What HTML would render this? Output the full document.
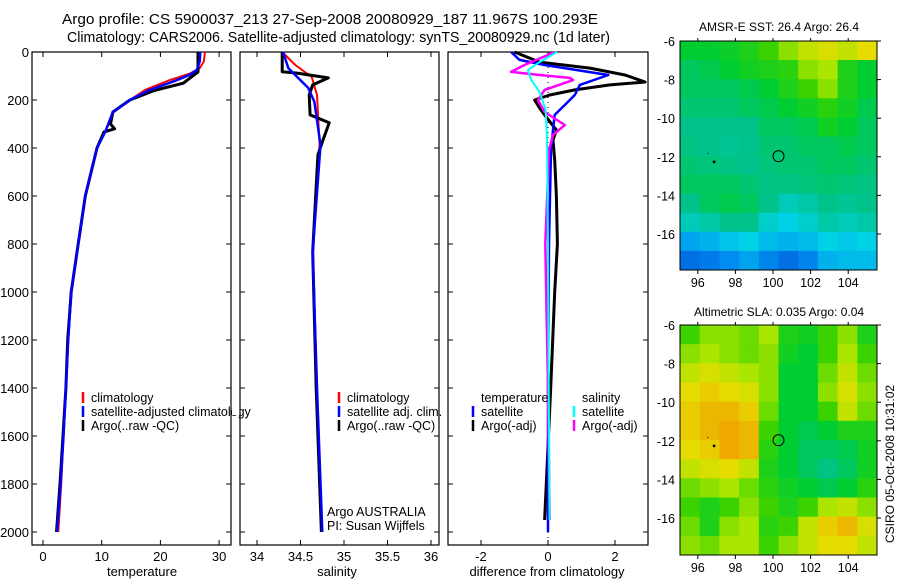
<!DOCTYPE html>
<html><head><meta charset="utf-8"><style>
body{margin:0;background:#fff;}
svg{font-family:"Liberation Sans",sans-serif;display:block}
text{fill:#000}
</style></head><body>
<svg id="s" width="900" height="580" viewBox="0 0 900 580">
<text x="62" y="24" font-size="14.8" textLength="536" lengthAdjust="spacingAndGlyphs">Argo profile: CS 5900037_213 27-Sep-2008 20080929_187 11.967S 100.293E</text>
<text x="67" y="42" font-size="14.8" textLength="543" lengthAdjust="spacingAndGlyphs">Climatology: CARS2006. Satellite-adjusted climatology: synTS_20080929.nc (1d later)</text>
<text x="779" y="31" font-size="12" text-anchor="middle">AMSR-E SST: 26.4 Argo: 26.4</text>
<text x="779" y="316" font-size="12" text-anchor="middle">Altimetric SLA: 0.035 Argo: 0.04</text>
<text transform="translate(894,464) rotate(-90)" font-size="12" text-anchor="middle">CSIRO 05-Oct-2008 10:31:02</text>
<g id="g"></g>
</svg>
<script>
// ---- temperature panel data ----
const tDepthClim=[0,40,67,90,117,158,200,250,333,400,600,800,1000,1200,1400,1600,1800,2000];
const tClim=[27.6,27.4,26.7,25,21.6,17.4,14.8,12,10.6,9.2,7.2,6.0,4.8,4.3,3.9,3.5,3.1,2.6];
const tDepthSat=[0,40,75,95,120,160,200,250,333,400,600,800,1000,1200,1400,1600,1800,2000];
const tSat=[26.8,26.7,26.2,25,22.5,18,14.8,11.9,10.6,9.2,7.2,6.0,4.8,4.3,3.9,3.5,3.0,2.4];
const tDepthArgo=[0,83,130,160,200,250,300,320,333,400,600,800,1000,1200,1400,1600,1800,2000];
const tArgo=[26.4,26.4,23.9,19,14.8,11.9,11.5,12.2,10.4,9.2,7.2,6.0,4.8,4.2,3.9,3.4,2.9,2.3];
// ---- salinity panel data ----
const sDepthClim=[0,54,104,179,387,833,1400,2000];
const sClim=[34.29,34.44,34.63,34.69,34.72,34.64,34.69,34.74];
const sDepthSat=[0,67,150,208,387,833,1400,2000];
const sSat=[34.30,34.36,34.59,34.66,34.73,34.64,34.69,34.75];
const sDepthArgo=[0,82,88,108,137,179,262,295,366,429,833,1400,2000];
const sArgo=[34.29,34.29,34.46,34.82,34.64,34.6,34.61,34.83,34.76,34.7,34.64,34.68,34.74];
// ---- difference panel data ----
const dDepthTSat=[0,33,54,96,137,179,221,262,325,408,800,1400,2000];
const dTSat=[-1.1,-0.85,-0.1,1.8,0.95,0.8,0.5,0.2,0.15,0.09,0.03,0.0,0.0];
const dDepthTArgo=[0,42,67,96,125,137,158,179,200,233,262,325,367,450,600,800,1000,1400,1800,1950];
const dTArgo=[-1,-0.25,1.25,2.3,2.9,1.85,0.8,0.05,-0.4,-0.25,-0.1,0.25,0.15,0.2,0.25,0.28,0.2,0.08,-0.05,-0.1];
const dDepthSArgo=[0,54,83,96,108,117,158,200,250,304,346,408,800,1400,1950];
const dSArgo=[0.2,-0.7,-1.1,-0.25,0.65,0.75,-0.1,-0.3,-0.1,0.5,0.15,0.03,-0.08,0.0,0.05];
const dDepthSSat=[0,42,75,117,167,241,367,800,1400,1950];
const dSSat=[0.27,-0.25,-0.6,-0.5,-0.25,-0.07,-0.03,0.0,0.02,0.05];
// ---- map data (rows top->bottom, cols west->east), normalized 0..1 ----
const sstGrid=[
[.55,.55,.57,.6,.65,.7,.75,.78,.75,.8],
[.5,.52,.55,.58,.6,.62,.7,.72,.6,.55],
[.5,.5,.5,.52,.55,.6,.65,.7,.6,.55],
[.48,.48,.48,.5,.52,.55,.58,.62,.58,.52],
[.45,.45,.45,.45,.5,.5,.52,.58,.55,.5],
[.46,.45,.44,.45,.48,.48,.5,.5,.52,.5],
[.48,.47,.46,.45,.47,.48,.48,.5,.5,.48],
[.5,.5,.5,.48,.46,.46,.47,.48,.47,.46],
[.45,.5,.52,.5,.45,.4,.42,.45,.44,.45],
[.4,.42,.45,.45,.38,.35,.38,.42,.4,.42],
[.25,.28,.32,.35,.3,.28,.3,.35,.33,.35],
[.12,.15,.2,.25,.18,.12,.18,.28,.3,.3]];
const slaGrid=[
[.65,.7,.7,.68,.72,.6,.58,.65,.7,.6],
[.7,.72,.7,.68,.7,.58,.55,.65,.72,.65],
[.75,.78,.75,.72,.7,.55,.55,.68,.75,.68],
[.8,.82,.8,.78,.7,.55,.55,.7,.78,.7],
[.82,.85,.85,.82,.68,.55,.55,.65,.75,.68],
[.82,.85,.87,.85,.65,.55,.52,.55,.6,.6],
[.8,.82,.87,.85,.62,.55,.5,.5,.52,.58],
[.75,.78,.8,.75,.6,.55,.5,.46,.5,.58],
[.68,.7,.72,.68,.62,.58,.55,.52,.55,.62],
[.65,.6,.65,.7,.65,.6,.65,.72,.75,.7],
[.68,.6,.7,.72,.62,.65,.75,.82,.85,.78],
[.7,.68,.72,.72,.65,.7,.75,.8,.8,.75]];
const depthTicks=[0,200,400,600,800,1000,1200,1400,1600,1800,2000];
const tTicks=[0,10,20,30];
const sTicks=[34,34.5,35,35.5,36];
const dTicks=[-2,0,2];
const latTicks=[-6,-8,-10,-12,-14,-16];
const lonTicks=[96,98,100,102,104];

const NS='http://www.w3.org/2000/svg';
const G=document.getElementById('g');
function mk(t,a,p){const e=document.createElementNS(NS,t);for(const k in a)e.setAttribute(k,a[k]);(p||G).appendChild(e);return e;}
const yD=d=>52+d*0.24;
const TOP=52,BOT=545;
function frame(x0,x1,name){
 const r=mk('rect',{x:x0,y:TOP,width:x1-x0,height:BOT-TOP,fill:'none',stroke:'#000','stroke-width':1.2});
 
 
}
function xticks(x0,x1,ticks,fx,label,lx){
 ticks.forEach(v=>{const x=fx(v);
  mk('line',{x1:x,x2:x,y1:TOP,y2:TOP+5,stroke:'#000'});
  mk('line',{x1:x,x2:x,y1:BOT,y2:BOT-5,stroke:'#000'});
  const t=mk('text',{x:x,y:BOT+16,'font-size':13,'text-anchor':'middle'});t.textContent=v;
  
  
 });
 const t=mk('text',{x:lx,y:BOT+31,'font-size':13,'text-anchor':'middle'});t.textContent=label;
 
 
}
function yticks(x0,x1,labels){
 depthTicks.forEach(d=>{const y=yD(d);
  mk('line',{x1:x0,x2:x0+5,y1:y,y2:y,stroke:'#000'});
  mk('line',{x1:x1,x2:x1-5,y1:y,y2:y,stroke:'#000'});
  if(labels){const t=mk('text',{x:x0-3,y:y+5,'font-size':13,'text-anchor':'end'});t.textContent=d;
   
   }
 });
}
function line(vals,deps,fx,col,w,name){
 const pts=vals.map((v,i)=>fx(v).toFixed(1)+','+yD(deps[i]).toFixed(1)).join(' ');
 const p=mk('polyline',{points:pts,fill:'none',stroke:col,'stroke-width':w,'stroke-linejoin':'round'});
 
 
}
function legend(x,y,col,txt){
 mk('line',{x1:x,x2:x,y1:y-10,y2:y+1,stroke:col,'stroke-width':2.5});
 const t=mk('text',{x:x+8,y:y,'font-size':12.5});t.textContent=txt;
 
 
}
// panel 1
const fT=v=>43+v*5.87;
frame(32,231,'temperature-plot-frame');yticks(32,231,true);xticks(32,231,tTicks,fT,'temperature',142);
line(tClim,tDepthClim,fT,'#f00',2,'temperature-climatology-line');
line(tArgo,tDepthArgo,fT,'#000',3,'temperature-argo-line');
line(tSat,tDepthSat,fT,'#00f',2.5,'temperature-satellite-line');
legend(83,402,'#f00','climatology');legend(83,416,'#00f','satellite-adjusted climatology');legend(83,430,'#000','Argo(..raw -QC)');
G.appendChild(mk('rect',{x:232,y:395,width:8,height:20,fill:'#fff'}));
// panel 2
const fS=v=>257+(v-34)*87;
frame(240,439,'salinity-plot-frame');yticks(240,439,false);xticks(240,439,sTicks,fS,'salinity',337);
line(sClim,sDepthClim,fS,'#f00',2,'salinity-climatology-line');
line(sArgo,sDepthArgo,fS,'#000',3,'salinity-argo-line');
line(sSat,sDepthSat,fS,'#00f',2.5,'salinity-satellite-line');
legend(339,402,'#f00','climatology');legend(339,416,'#00f','satellite adj. clim.');legend(339,430,'#000','Argo(..raw -QC)');
[['Argo AUSTRALIA',516],['PI: Susan Wijffels',530]].forEach(a=>{const t=mk('text',{x:327,y:a[1],'font-size':12.5});t.textContent=a[0];
 
 });
// panel 3
const fD=v=>548+v*33.5;
frame(448,648,'difference-plot-frame');yticks(448,648,false);xticks(448,648,dTicks,fD,'difference from climatology',547);
mk('line',{x1:548,x2:548,y1:TOP,y2:BOT,stroke:'#000','stroke-dasharray':'1,4'});
line(dTArgo,dDepthTArgo,fD,'#000',3,'temp-argo-diff-line');
line(dTSat,dDepthTSat,fD,'#00f',2.5,'temp-satellite-diff-line');
line(dSArgo,dDepthSArgo,fD,'#f0f',2.5,'salinity-argo-diff-line');
line(dSSat,dDepthSSat,fD,'#0ff',2,'salinity-satellite-diff-line');
{const t=mk('text',{x:481,y:402,'font-size':12.5});t.textContent='temperature';}
{const t=mk('text',{x:582,y:402,'font-size':12.5});t.textContent='salinity';}
legend(473,416,'#00f','satellite');legend(473,430,'#000','Argo(-adj)');
legend(574,416,'#0ff','satellite');legend(574,430,'#f0f','Argo(-adj)');
// maps
const cmapStops=[[0,[0,70,210]],[.2,[0,140,240]],[.35,[0,210,230]],[.45,[0,195,140]],[.55,[0,205,50]],[.65,[60,210,0]],[.72,[170,230,0]],[.8,[230,220,0]],[.88,[240,160,0]],[1,[220,100,0]]];
function cmap(v){for(let i=1;i<cmapStops.length;i++){const [a,ca]=cmapStops[i-1],[b,cb]=cmapStops[i];if(v<=b){const f=(v-a)/(b-a);return 'rgb('+ca.map((c,j)=>Math.round(c+(cb[j]-c)*f)).join(',')+')';}}return 'rgb(220,100,0)';}
function map(grid,top,bot,name){
 const L=680,R=877,fx=lon=>773+(lon-100)*18.8,fy=lat=>top+(-6-lat)*19.3;
 const rows=grid.length,cols=grid[0].length,cw=(R-L)/cols,ch=(bot-top)/rows;
 grid.forEach((row,i)=>row.forEach((v,j)=>{
  const r=mk('rect',{x:L+j*cw,y:top+i*ch,width:cw+.5,height:ch+.5,fill:cmap(v)});
  
  
 }));
 const f=mk('rect',{x:L,y:top,width:R-L,height:bot-top,fill:'none',stroke:'#000'});
 
 
 latTicks.forEach(la=>{const y=fy(la);mk('line',{x1:R,x2:R+4,y1:y,y2:y,stroke:'#000'});
  const t=mk('text',{x:L-5,y:y+5,'font-size':12.5,'text-anchor':'end'});t.textContent=la;
  });
 lonTicks.forEach(lo=>{const x=fx(lo);mk('line',{x1:x,x2:x,y1:bot,y2:bot+4,stroke:'#000'});mk('line',{x1:x,x2:x,y1:top,y2:top-3,stroke:'#000'});
  const t=mk('text',{x:x,y:bot+17,'font-size':12.5,'text-anchor':'middle'});t.textContent=lo;
  });
 const c=mk('circle',{cx:fx(100.293),cy:fy(-11.967),r:5.5,fill:'none',stroke:'#000'});
 
 
 mk('rect',{x:fx(96.8),y:fy(-12.2),width:2.5,height:2.5,fill:'#000'});
 mk('rect',{x:fx(96.5),y:fy(-11.8),width:1,height:1,fill:'#000'});
}
map(sstGrid,41,270,'sst-map');
map(slaGrid,325,555,'sla-map');
</script>
</body></html>
